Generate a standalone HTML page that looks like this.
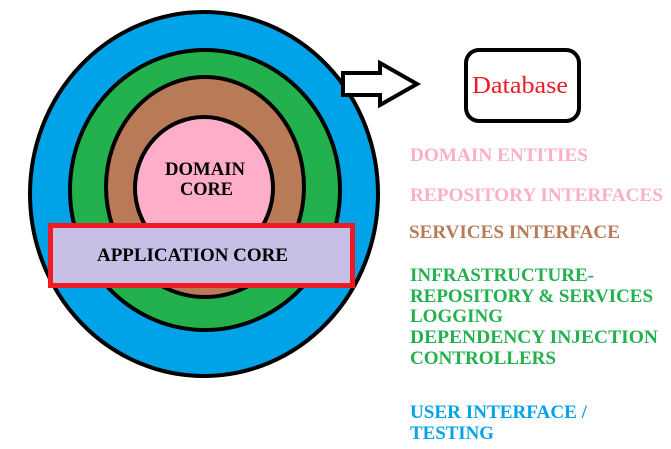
<!DOCTYPE html>
<html><head><style>html,body{margin:0;padding:0;background:#fff;}svg{display:block}</style></head>
<body>
<svg width="671" height="449" viewBox="0 0 671 449" xmlns="http://www.w3.org/2000/svg" font-family="'Liberation Serif', serif" font-weight="bold">
<ellipse cx="204" cy="194" rx="174" ry="182" fill="#00a2e8" stroke="#000" stroke-width="4"/>
<ellipse cx="205" cy="190" rx="135" ry="140" fill="#22b14c" stroke="#000" stroke-width="4"/>
<ellipse cx="205" cy="187" rx="99" ry="110" fill="#b97a57" stroke="#000" stroke-width="4"/>
<ellipse cx="204" cy="188" rx="69" ry="71" fill="#ffaec9" stroke="#000" stroke-width="4"/>
<text x="165" y="175" font-size="19" textLength="80" lengthAdjust="spacingAndGlyphs">DOMAIN</text>
<text x="180" y="195" font-size="19" textLength="53" lengthAdjust="spacingAndGlyphs">CORE</text>
<rect x="50.5" y="225.5" width="302" height="60" fill="#c8bfe7" stroke="#ed1c24" stroke-width="5"/>
<text x="97" y="261" font-size="19" textLength="191" lengthAdjust="spacingAndGlyphs">APPLICATION CORE</text>
<polygon points="343,73 380,73 380,63 417,84 380,105 380,95 343,95" fill="#fff" stroke="#000" stroke-width="4" stroke-linejoin="miter"/>
<rect x="466" y="50" width="113" height="71" rx="13" fill="#fff" stroke="#000" stroke-width="4"/>
<text x="472" y="93" font-size="24" font-weight="normal" fill="#ed1c24" textLength="96" lengthAdjust="spacingAndGlyphs">Database</text>
<g font-size="19">
<text x="410" y="161" fill="#ffaec9" textLength="178" lengthAdjust="spacingAndGlyphs">DOMAIN ENTITIES</text>
<text x="410" y="201" fill="#ffaec9" textLength="253" lengthAdjust="spacingAndGlyphs">REPOSITORY INTERFACES</text>
<text x="409" y="238" fill="#b97a57" textLength="211" lengthAdjust="spacingAndGlyphs">SERVICES INTERFACE</text>
<text x="410" y="281" fill="#22b14c" textLength="184" lengthAdjust="spacingAndGlyphs">INFRASTRUCTURE-</text>
<text x="410" y="302" fill="#22b14c" textLength="243" lengthAdjust="spacingAndGlyphs">REPOSITORY &amp; SERVICES</text>
<text x="410" y="322" fill="#22b14c" textLength="93" lengthAdjust="spacingAndGlyphs">LOGGING</text>
<text x="410" y="343" fill="#22b14c" textLength="248" lengthAdjust="spacingAndGlyphs">DEPENDENCY INJECTION</text>
<text x="410" y="364" fill="#22b14c" textLength="146" lengthAdjust="spacingAndGlyphs">CONTROLLERS</text>
<text x="410" y="418" fill="#00a2e8" textLength="177" lengthAdjust="spacingAndGlyphs">USER INTERFACE /</text>
<text x="410" y="439" fill="#00a2e8" textLength="84" lengthAdjust="spacingAndGlyphs">TESTING</text>
</g>
</svg>
</body></html>
